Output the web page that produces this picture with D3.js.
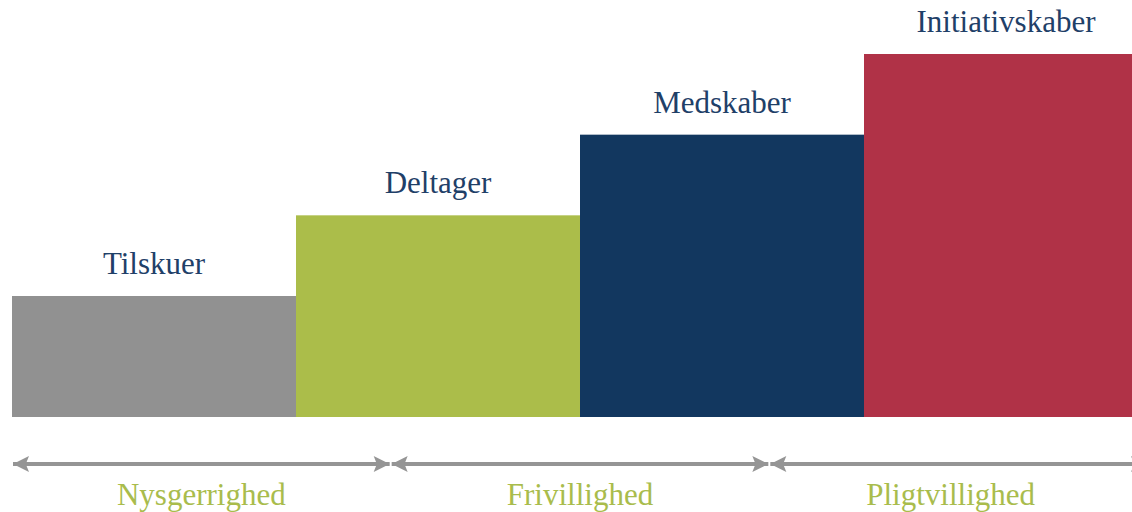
<!DOCTYPE html>
<html>
<head>
<meta charset="utf-8">
<script src="https://cdn.jsdelivr.net/npm/d3@7"></script>
<style>
  html, body { margin: 0; padding: 0; background: #fff; }
  svg { display: block; }
</style>
</head>
<body>
<svg id="chart" width="1132" height="512"></svg>
<script>
// roles, in order of engagement
const roles = ['Tilskuer', 'Deltager', 'Medskaber', 'Initiativskaber'];
const levels = [1.5, 2.5, 3.5, 4.5];
const roleColors = ['#919191', '#abbd4a', '#12375f', '#b03247'];

// phases shown as arrows under the bars
const phases = ['Nysgerrighed', 'Frivillighed', 'Pligtvillighed'];

const cfg = {
  width: 1132,
  height: 512,
  left: 12,
  right: 1148,
  barBottom: 417,
  barTop: 54,
  arrowY: 464,
  labelFont: '"Liberation Serif", "Times New Roman", serif',
  labelSize: 31,
  textNavy: '#1f4068',
  textGreen: '#a9bc4c',
  arrowColor: '#959595',
};

const svg = d3.select('#chart');

const x = d3.scaleBand()
  .domain(roles)
  .range([cfg.left, cfg.right])
  .padding(0);

const y = d3.scaleLinear()
  .domain([0, d3.max(levels)])
  .range([cfg.barBottom, cfg.barTop]);

const data = roles.map((r, i) => ({ role: r, level: levels[i], color: roleColors[i] }));

// bars
svg.append('g')
  .attr('class', 'bars')
  .selectAll('rect')
  .data(data)
  .enter()
  .append('rect')
  .attr('x', d => x(d.role))
  .attr('y', d => y(d.level))
  .attr('width', x.bandwidth())
  .attr('height', d => y(0) - y(d.level))
  .attr('fill', d => d.color);

// role labels above bars
svg.append('g')
  .attr('class', 'roleLabels')
  .selectAll('text')
  .data(data)
  .enter()
  .append('text')
  .attr('x', d => x(d.role) + x.bandwidth() / 2)
  .attr('y', d => y(d.level) - 22)
  .attr('text-anchor', 'middle')
  .style('font-family', cfg.labelFont)
  .style('font-size', `${cfg.labelSize}px`)
  .attr('fill', cfg.textNavy)
  .text(d => d.role);

// phase arrows
const px = d3.scaleLinear()
  .domain([0, phases.length])
  .range([cfg.left, cfg.right]);

const defs = svg.append('defs');
defs.append('marker')
  .attr('id', 'head')
  .attr('viewBox', '0 0 10 10')
  .attr('refX', 10)
  .attr('refY', 5)
  .attr('markerWidth', 17)
  .attr('markerHeight', 16)
  .attr('markerUnits', 'userSpaceOnUse')
  .attr('orient', 'auto-start-reverse')
  .append('path')
  .attr('d', 'M0,0 L10,5 L0,10 L2,5 Z')
  .attr('fill', cfg.arrowColor);

const phaseG = svg.append('g')
  .attr('class', 'phases')
  .selectAll('g')
  .data(phases)
  .enter()
  .append('g');

phaseG.append('line')
  .attr('x1', (d, i) => px(i) + 1)
  .attr('x2', (d, i) => px(i + 1) - 1)
  .attr('y1', cfg.arrowY)
  .attr('y2', cfg.arrowY)
  .attr('stroke', cfg.arrowColor)
  .attr('stroke-width', 4)
  .attr('marker-start', 'url(#head)')
  .attr('marker-end', 'url(#head)');

phaseG.append('text')
  .attr('x', (d, i) => (px(i) + Math.min(px(i + 1), cfg.width)) / 2)
  .attr('y', 505)
  .attr('text-anchor', 'middle')
  .style('font-family', cfg.labelFont)
  .style('font-size', `${cfg.labelSize}px`)
  .attr('fill', cfg.textGreen)
  .text(d => d);
</script>
</body>
</html>
